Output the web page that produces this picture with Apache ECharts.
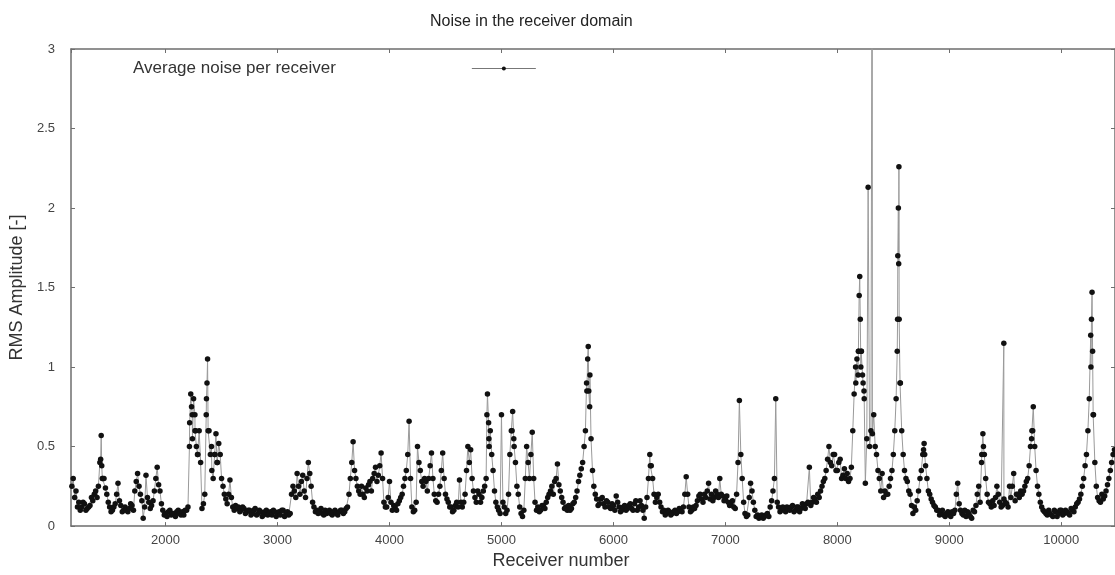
<!DOCTYPE html>
<html>
<head>
<meta charset="utf-8">
<script src="https://cdn.jsdelivr.net/npm/echarts@6/dist/echarts.min.js"></script>
<style>
html,body{margin:0;padding:0;background:#fff;}
#chart{width:1115px;height:575px;}
</style>
</head>
<body>
<div id="chart"></div>
<script>
// Receiver sampling: set A every 25 receivers from 1150,
// set B (other side of the noisy band) every 25 receivers from 1163
const sampleStartA = 1150;
const sampleStartB = 1163;
const sampleStep = 25;
const noiseValuesA = [
  // 1150-1625
  0.2, 0.3, 0.22, 0.15, 0.12, 0.14, 0.11, 0.13, 0.16, 0.22, 0.25, 0.57, 0.3, 0.2, 0.12, 0.1, 0.14, 0.27, 0.13, 0.1,
  // 1650-2125
  0.1, 0.11, 0.13, 0.22, 0.33, 0.2, 0.05, 0.32, 0.15, 0.13, 0.22, 0.37, 0.22, 0.1, 0.08, 0.09, 0.07, 0.08, 0.09, 0.08,
  // 2150-2625
  0.09, 0.1, 0.12, 0.83, 0.8, 0.5, 0.6, 0.11, 0.2, 1.05, 0.45, 0.3, 0.58, 0.52, 0.3, 0.2, 0.14, 0.29, 0.12, 0.13,
  // 2650-3125
  0.12, 0.1, 0.11, 0.09, 0.1, 0.08, 0.11, 0.08, 0.09, 0.07, 0.1, 0.08, 0.07, 0.09, 0.08, 0.07, 0.1, 0.08, 0.07, 0.2,
  // 3150-3625
  0.22, 0.33, 0.2, 0.32, 0.18, 0.4, 0.25, 0.12, 0.1, 0.09, 0.08, 0.1, 0.09, 0.08, 0.09, 0.08, 0.09, 0.1, 0.09, 0.12,
  // 3650-4125
  0.3, 0.53, 0.3, 0.22, 0.25, 0.18, 0.22, 0.28, 0.3, 0.37, 0.32, 0.46, 0.15, 0.12, 0.28, 0.1, 0.12, 0.14, 0.18, 0.25,
  // 4150-4625
  0.35, 0.66, 0.12, 0.1, 0.5, 0.35, 0.25, 0.28, 0.3, 0.46, 0.2, 0.15, 0.25, 0.46, 0.2, 0.15, 0.12, 0.1, 0.15, 0.29,
  // 4650-5125
  0.12, 0.2, 0.5, 0.48, 0.22, 0.15, 0.2, 0.18, 0.25, 0.83, 0.6, 0.35, 0.15, 0.1, 0.7, 0.12, 0.1, 0.45, 0.72, 0.4,
  // 5150-5625
  0.2, 0.08, 0.1, 0.5, 0.3, 0.59, 0.15, 0.12, 0.1, 0.13, 0.15, 0.2, 0.25, 0.28, 0.39, 0.22, 0.15, 0.12, 0.13, 0.11,
  // 5650-6125
  0.15, 0.22, 0.32, 0.4, 0.6, 1.13, 0.55, 0.25, 0.17, 0.14, 0.18, 0.12, 0.15, 0.11, 0.13, 0.19, 0.12, 0.1, 0.13, 0.11,
  // 6150-6625
  0.14, 0.1, 0.16, 0.12, 0.13, 0.05, 0.18, 0.45, 0.3, 0.15, 0.2, 0.12, 0.1, 0.08, 0.09, 0.08, 0.1, 0.09, 0.1, 0.12,
  // 6650-7125
  0.31, 0.12, 0.1, 0.11, 0.16, 0.2, 0.15, 0.18, 0.27, 0.2, 0.18, 0.2, 0.3, 0.19, 0.17, 0.15, 0.14, 0.12, 0.2, 0.79,
  // 7150-7625
  0.3, 0.08, 0.07, 0.27, 0.15, 0.06, 0.05, 0.07, 0.06, 0.08, 0.12, 0.22, 0.8, 0.12, 0.1, 0.11, 0.12, 0.1, 0.13, 0.1,
  // 7650-8125
  0.12, 0.11, 0.13, 0.14, 0.37, 0.15, 0.17, 0.2, 0.22, 0.28, 0.35, 0.5, 0.38, 0.45, 0.35, 0.42, 0.32, 0.3, 0.28, 0.37,
  // 8150-8625
  0.83, 1.05, 1.57, 0.95, 0.27, 2.13, 0.6, 0.7, 0.45, 0.3, 0.33, 0.22, 0.2, 0.3, 0.45, 0.8, 2.26, 0.6, 0.35, 0.28,
  // 8650-9125
  0.2, 0.08, 0.1, 0.22, 0.35, 0.52, 0.3, 0.2, 0.15, 0.12, 0.1, 0.08, 0.07, 0.08, 0.07, 0.09, 0.1, 0.27, 0.1, 0.07,
  // 9150-9625
  0.06, 0.08, 0.05, 0.09, 0.2, 0.15, 0.58, 0.3, 0.15, 0.12, 0.13, 0.25, 0.15, 0.13, 0.15, 0.12, 0.18, 0.33, 0.2, 0.18,
  // 9650-10125
  0.2, 0.25, 0.3, 0.5, 0.75, 0.35, 0.2, 0.12, 0.09, 0.07, 0.08, 0.06, 0.09, 0.08, 0.1, 0.08, 0.09, 0.07, 0.1, 0.12,
  // 10150-10475
  0.15, 0.2, 0.3, 0.45, 0.8, 1.47, 0.4, 0.18, 0.15, 0.17, 0.22, 0.3, 0.4, 0.48
];
const noiseValuesB = [
  // 1163-1638
  0.25, 0.18, 0.12, 0.1, 0.15, 0.1, 0.12, 0.18, 0.2, 0.18, 0.4, 0.3, 0.24, 0.15, 0.09, 0.12, 0.2, 0.16, 0.09, 0.12,
  // 1663-2138
  0.09, 0.14, 0.1, 0.28, 0.25, 0.16, 0.12, 0.18, 0.11, 0.16, 0.3, 0.26, 0.14, 0.07, 0.06, 0.1, 0.08, 0.06, 0.1, 0.07,
  // 2163-2638
  0.07, 0.1, 0.5, 0.7, 0.6, 0.45, 0.4, 0.14, 0.7, 0.6, 0.35, 0.45, 0.4, 0.45, 0.25, 0.17, 0.2, 0.18, 0.1, 0.11,
  // 2663-3138
  0.09, 0.12, 0.08, 0.1, 0.07, 0.1, 0.07, 0.1, 0.06, 0.09, 0.07, 0.09, 0.1, 0.06, 0.09, 0.1, 0.06, 0.09, 0.08, 0.25,
  // 3163-3638
  0.18, 0.25, 0.28, 0.22, 0.3, 0.33, 0.15, 0.09, 0.08, 0.11, 0.07, 0.08, 0.1, 0.07, 0.1, 0.07, 0.1, 0.08, 0.11, 0.2,
  // 3663-4138
  0.4, 0.35, 0.25, 0.2, 0.2, 0.24, 0.26, 0.22, 0.33, 0.28, 0.38, 0.3, 0.12, 0.18, 0.15, 0.13, 0.1, 0.16, 0.2, 0.3,
  // 4163-4638
  0.45, 0.3, 0.09, 0.15, 0.4, 0.28, 0.3, 0.22, 0.38, 0.3, 0.16, 0.2, 0.35, 0.3, 0.17, 0.12, 0.09, 0.13, 0.12, 0.15,
  // 4663-5138
  0.15, 0.35, 0.4, 0.3, 0.18, 0.22, 0.15, 0.22, 0.3, 0.55, 0.45, 0.22, 0.12, 0.08, 0.15, 0.08, 0.2, 0.6, 0.5, 0.25,
  // 5163-5638
  0.12, 0.06, 0.3, 0.4, 0.45, 0.3, 0.1, 0.09, 0.13, 0.11, 0.18, 0.22, 0.2, 0.3, 0.26, 0.18, 0.11, 0.1, 0.1, 0.14,
  // 5663-6138
  0.18, 0.28, 0.36, 0.5, 0.85, 0.75, 0.35, 0.2, 0.13, 0.17, 0.14, 0.16, 0.12, 0.14, 0.1, 0.15, 0.09, 0.12, 0.1, 0.13,
  // 6163-6638
  0.11, 0.14, 0.1, 0.16, 0.1, 0.12, 0.3, 0.38, 0.2, 0.18, 0.15, 0.09, 0.07, 0.1, 0.07, 0.09, 0.08, 0.11, 0.09, 0.2,
  // 6663-7138
  0.2, 0.09, 0.12, 0.13, 0.19, 0.17, 0.2, 0.22, 0.17, 0.16, 0.22, 0.18, 0.2, 0.16, 0.19, 0.13, 0.16, 0.11, 0.4, 0.45,
  // 7163-7638
  0.15, 0.06, 0.18, 0.22, 0.1, 0.07, 0.06, 0.05, 0.07, 0.06, 0.16, 0.3, 0.15, 0.09, 0.12, 0.09, 0.11, 0.12, 0.09, 0.12,
  // 7663-8138
  0.09, 0.14, 0.11, 0.15, 0.13, 0.18, 0.15, 0.18, 0.25, 0.3, 0.42, 0.4, 0.45, 0.35, 0.4, 0.3, 0.36, 0.33, 0.3, 0.6,
  // 8163-8638
  1.0, 1.1, 1.1, 0.85, 0.55, 0.5, 0.58, 0.5, 0.35, 0.22, 0.18, 0.2, 0.25, 0.35, 0.6, 1.3, 0.9, 0.45, 0.3, 0.22,
  // 8663-9138
  0.13, 0.12, 0.16, 0.3, 0.45, 0.38, 0.22, 0.17, 0.13, 0.1, 0.07, 0.1, 0.06, 0.09, 0.06, 0.08, 0.2, 0.14, 0.08, 0.1,
  // 9163-9638
  0.09, 0.06, 0.1, 0.13, 0.25, 0.4, 0.45, 0.2, 0.14, 0.16, 0.18, 0.2, 0.12, 0.17, 0.14, 0.25, 0.25, 0.16, 0.2, 0.22,
  // 9663-10138
  0.22, 0.28, 0.38, 0.6, 0.5, 0.25, 0.15, 0.1, 0.08, 0.1, 0.07, 0.1, 0.06, 0.1, 0.07, 0.1, 0.08, 0.11, 0.09, 0.14,
  // 10163-10463
  0.17, 0.25, 0.38, 0.6, 1.2, 0.7, 0.25, 0.16, 0.2, 0.19, 0.26, 0.35, 0.45
];

// Extra receivers inside peaks and isolated spikes
const peakReceivers = [1420, 1430, 1435, 2215, 2232, 2240, 2262, 2268, 2285, 2365, 2370, 2380, 2410, 2440, 2460,
  4870, 4885, 4890, 5095, 5110, 5760, 5770, 5780, 5790, 6330,
  8165, 8185, 8190, 8195, 8205, 8210, 8215, 8230, 8240, 8312,
  8535, 8540, 8545, 8548, 8552, 8560, 8770, 8780, 9290, 9305, 9487, 9735, 9745,
  10265, 10270, 10280, 10285];
const peakValues = [0.42, 0.38, 0.3, 0.65, 0.75, 0.55, 0.7, 0.6, 0.45, 0.8, 0.9, 0.6, 0.5, 0.45, 0.4,
  0.7, 0.65, 0.5, 0.6, 0.55, 0.9, 1.05, 0.85, 0.95, 0.38,
  0.9, 0.95, 1.1, 1.45, 1.3, 1.0, 1.1, 0.9, 0.8, 4.5,
  1.1, 1.7, 2.0, 1.65, 1.3, 0.9, 0.48, 0.45, 0.45, 0.5, 1.15, 0.55, 0.6,
  1.0, 1.3, 1.1, 0.7];

const yTicks = [0, 0.5, 1, 1.5, 2, 2.5, 3];
const seriesName = 'Average noise per receiver';

const points = [];
noiseValuesA.forEach((v, i) => points.push([sampleStartA + i * sampleStep, v]));
noiseValuesB.forEach((v, i) => points.push([sampleStartB + i * sampleStep, v]));
peakReceivers.forEach((r, i) => points.push([r, peakValues[i]]));
points.sort((a, b) => a[0] - b[0]);

const font = 'Liberation Sans, Arial, sans-serif';
const axisColor = '#6e6e6e';
const chart = echarts.init(document.getElementById('chart'), null, {renderer: 'canvas'});
chart.setOption({
  animation: false,
  backgroundColor: '#ffffff',
  textStyle: {fontFamily: font},
  title: {
    text: 'Noise in the receiver domain',
    left: 425, top: 9,
    textStyle: {fontFamily: font, fontSize: 16, fontWeight: 'normal', color: '#222'}
  },
  legend: {
    data: [seriesName],
    left: 133, top: 60, padding: 0,
    align: 'right',
    itemWidth: 64, itemHeight: 5,
    lineStyle: {width: 1, color: '#777'},
    textStyle: {fontFamily: font, fontSize: 17, color: '#333', padding: [0, 131, 0, 0]}
  },
  grid: {left: 66, right: 0, top: 49, bottom: 45, containLabel: false},
  xAxis: [{
    type: 'value', min: 1155, max: 10480, minInterval: 1000, maxInterval: 1000,
    name: 'Receiver number', nameLocation: 'middle', nameGap: 24,
    nameTextStyle: {fontFamily: font, fontSize: 18, color: '#333', padding: [0, 64, 0, 0]},
    axisLine: {show: true, lineStyle: {color: axisColor, width: 1.5}},
    axisTick: {show: true, inside: true, length: 4, lineStyle: {color: axisColor}},
    axisLabel: {showMinLabel: false, showMaxLabel: false, fontFamily: font, fontSize: 13, color: '#444', margin: 8,
      formatter: v => String(v)},
    splitLine: {show: false}
  }, {
    type: 'value', position: 'top', min: 1155, max: 10480, minInterval: 1000, maxInterval: 1000,
    axisLine: {show: true, onZero: false, lineStyle: {color: axisColor, width: 1.5}},
    axisTick: {show: true, inside: true, length: 4, lineStyle: {color: axisColor}},
    axisLabel: {show: false}, splitLine: {show: false}
  }],
  yAxis: [{
    type: 'value', min: 0, max: 3, interval: 0.5,
    name: 'RMS Amplitude [-]', nameLocation: 'middle', nameGap: 40,
    nameTextStyle: {fontFamily: font, fontSize: 18, color: '#333'},
    axisLine: {show: true, lineStyle: {color: axisColor, width: 1.5}},
    axisTick: {show: true, inside: true, length: 4, lineStyle: {color: axisColor}},
    axisLabel: {fontFamily: font, fontSize: 13, color: '#444', margin: 16,
      formatter: v => String(yTicks.find(t => Math.abs(t - v) < 1e-9) ?? v)},
    splitLine: {show: false}
  }, {
    type: 'value', position: 'right', min: 0, max: 3, interval: 0.5,
    axisLine: {show: true, onZero: false, lineStyle: {color: axisColor, width: 1.5}},
    axisTick: {show: true, inside: true, length: 4, lineStyle: {color: axisColor}},
    axisLabel: {show: false}, splitLine: {show: false}
  }],
  series: [{
    name: seriesName,
    type: 'line',
    xAxisIndex: 0, yAxisIndex: 0,
    data: points,
    clip: true,
    symbol: 'circle', symbolSize: 5.5,
    showAllSymbol: true,
    itemStyle: {color: '#111'},
    lineStyle: {color: '#9a9a9a', width: 1},
    emphasis: {disabled: true}
  }]
});
</script>
</body>
</html>
